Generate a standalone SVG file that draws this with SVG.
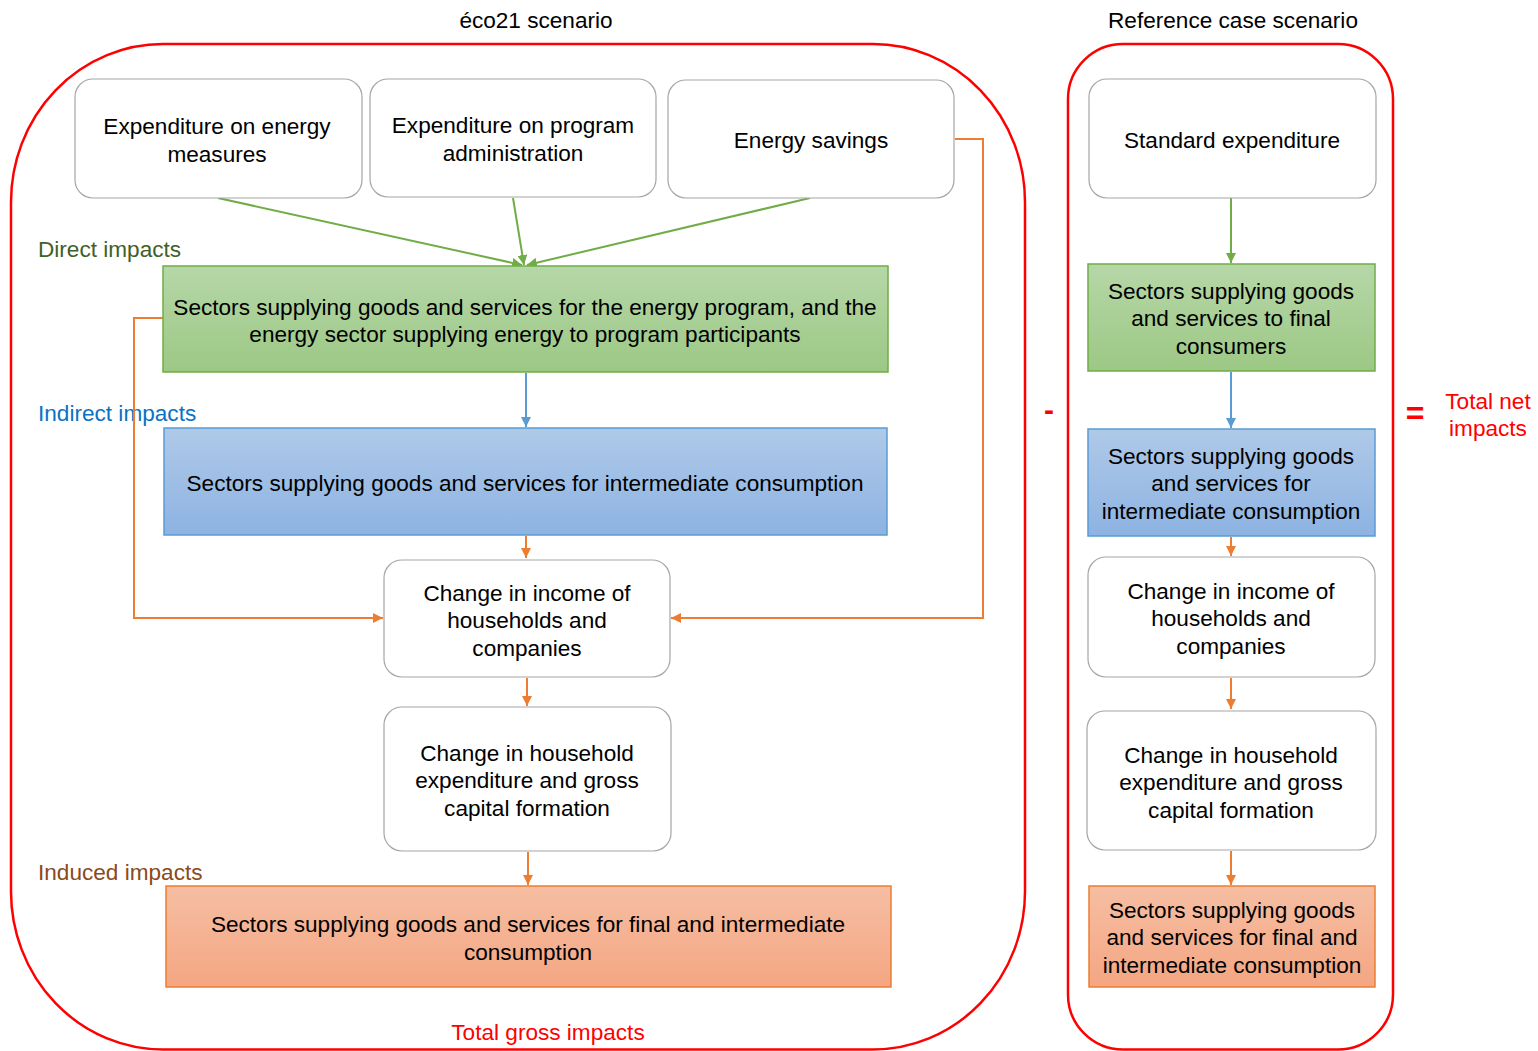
<svg xmlns="http://www.w3.org/2000/svg" width="1538" height="1051" viewBox="0 0 1538 1051">
<defs>
<linearGradient id="gGreen" x1="0" y1="0" x2="0" y2="1"><stop offset="0" stop-color="#b6d7a8"/><stop offset="1" stop-color="#9cc884"/></linearGradient>
<linearGradient id="gBlue" x1="0" y1="0" x2="0" y2="1"><stop offset="0" stop-color="#afc9e8"/><stop offset="1" stop-color="#8db3e2"/></linearGradient>
<linearGradient id="gOrange" x1="0" y1="0" x2="0" y2="1"><stop offset="0" stop-color="#f6bea3"/><stop offset="1" stop-color="#f4a682"/></linearGradient>
<marker id="aG" markerUnits="userSpaceOnUse" markerWidth="10" markerHeight="10" viewBox="0 0 10 10" refX="10" refY="5" orient="auto"><path d="M0,0 L10,5 L0,10 z" fill="#70ad47"/></marker>
<marker id="aB" markerUnits="userSpaceOnUse" markerWidth="10" markerHeight="10" viewBox="0 0 10 10" refX="10" refY="5" orient="auto"><path d="M0,0 L10,5 L0,10 z" fill="#5b9bd5"/></marker>
<marker id="aO" markerUnits="userSpaceOnUse" markerWidth="10" markerHeight="10" viewBox="0 0 10 10" refX="10" refY="5" orient="auto"><path d="M0,0 L10,5 L0,10 z" fill="#ed7d31"/></marker>
</defs>
<style>
text{font-family:"Liberation Sans",Arial,sans-serif;font-size:22.6px;fill:#000;text-anchor:middle;dominant-baseline:central}
.lbl{text-anchor:start}
.red{fill:#ff0000}
.frame{fill:none;stroke:#ff0000;stroke-width:2.5}
.wbox{fill:#fff;stroke:#a6a6a6;stroke-width:1.2}
.gbox{fill:url(#gGreen);stroke:#70ad47;stroke-width:1.5}
.bbox{fill:url(#gBlue);stroke:#5b9bd5;stroke-width:1.5}
.obox{fill:url(#gOrange);stroke:#ed7d31;stroke-width:1.5}
.cg{fill:none;stroke:#70ad47;stroke-width:2;marker-end:url(#aG)}
.cb{fill:none;stroke:#5b9bd5;stroke-width:2;marker-end:url(#aB)}
.co{fill:none;stroke:#ed7d31;stroke-width:2;marker-end:url(#aO)}
</style>
<rect width="1538" height="1051" fill="#fff"/>

<g id="frames">
<rect class="frame" x="11" y="44" width="1014" height="1005.5" rx="152" ry="158"/>
<rect class="frame" x="1068" y="44" width="325" height="1005.5" rx="55" ry="55"/>
</g>

<g id="labels">
<text x="536" y="20">éco21 scenario</text>
<text x="1233" y="20">Reference case scenario</text>
<text class="lbl" x="38" y="249" style="fill:#3f6127">Direct impacts</text>
<text class="lbl" x="38" y="413" style="fill:#0a72c4">Indirect impacts</text>
<text class="lbl" x="38" y="872" style="fill:#8a4a1a">Induced impacts</text>
<text class="red" x="548" y="1032">Total gross impacts</text>
<text class="red" x="1049" y="409" style="font-size:30px;font-weight:bold">-</text>
<text class="red" x="1415" y="413" style="font-size:32px;font-weight:bold">=</text>
<text class="red" x="1488" y="401">Total net</text>
<text class="red" x="1488" y="428">impacts</text>
</g>

<g id="connectors">
<line class="cg" x1="218" y1="198" x2="522" y2="265"/>
<line class="cg" x1="513" y1="198" x2="524" y2="265"/>
<line class="cg" x1="810" y1="198" x2="527" y2="265"/>
<line class="cb" x1="526" y1="373" x2="526" y2="427"/>
<line class="co" x1="526" y1="536" x2="526" y2="558"/>
<line class="co" x1="527" y1="678" x2="527" y2="706"/>
<line class="co" x1="528" y1="852" x2="528" y2="885"/>
<polyline class="co" points="163,318 134,318 134,618 383,618"/>
<polyline class="co" points="955,139 983,139 983,618 671,618"/>
<line class="cg" x1="1231" y1="198" x2="1231" y2="263"/>
<line class="cb" x1="1231" y1="372" x2="1231" y2="428"/>
<line class="co" x1="1231" y1="537" x2="1231" y2="556"/>
<line class="co" x1="1231" y1="678" x2="1231" y2="709"/>
<line class="co" x1="1231" y1="851" x2="1231" y2="885"/>
</g>

<g id="n-exp-energy">
<rect class="wbox" x="75" y="79" width="287" height="119" rx="18"/>
<text x="217" y="126">Expenditure on energy</text>
<text x="217" y="154">measures</text>
</g>
<g id="n-exp-admin">
<rect class="wbox" x="370" y="79" width="286" height="118" rx="18"/>
<text x="513" y="125">Expenditure on program</text>
<text x="513" y="153">administration</text>
</g>
<g id="n-savings">
<rect class="wbox" x="668" y="80" width="286" height="118" rx="18"/>
<text x="811" y="140">Energy savings</text>
</g>
<g id="n-direct">
<rect class="gbox" x="163" y="266" width="725" height="106"/>
<text x="525" y="307">Sectors supplying goods and services for the energy program, and the</text>
<text x="525" y="334">energy sector supplying energy to program participants</text>
</g>
<g id="n-indirect">
<rect class="bbox" x="164" y="428" width="723" height="107"/>
<text x="525" y="483">Sectors supplying goods and services for intermediate consumption</text>
</g>
<g id="n-income">
<rect class="wbox" x="384" y="560" width="286" height="117" rx="18"/>
<text x="527" y="593">Change in income of</text>
<text x="527" y="620">households and</text>
<text x="527" y="648">companies</text>
</g>
<g id="n-household">
<rect class="wbox" x="384" y="707" width="287" height="144" rx="18"/>
<text x="527" y="753">Change in household</text>
<text x="527" y="780">expenditure and gross</text>
<text x="527" y="808">capital formation</text>
</g>
<g id="n-induced">
<rect class="obox" x="166" y="886" width="725" height="101"/>
<text x="528" y="924">Sectors supplying goods and services for final and intermediate</text>
<text x="528" y="952">consumption</text>
</g>

<g id="r-standard">
<rect class="wbox" x="1089" y="79" width="287" height="119" rx="18"/>
<text x="1232" y="140">Standard expenditure</text>
</g>
<g id="r-final">
<rect class="gbox" x="1088" y="264" width="287" height="107"/>
<text x="1231" y="291">Sectors supplying goods</text>
<text x="1231" y="318">and services to final</text>
<text x="1231" y="346">consumers</text>
</g>
<g id="r-intermediate">
<rect class="bbox" x="1088" y="429" width="287" height="107"/>
<text x="1231" y="456">Sectors supplying goods</text>
<text x="1231" y="483">and services for</text>
<text x="1231" y="511">intermediate consumption</text>
</g>
<g id="r-income">
<rect class="wbox" x="1088" y="557" width="287" height="120" rx="18"/>
<text x="1231" y="591">Change in income of</text>
<text x="1231" y="618">households and</text>
<text x="1231" y="646">companies</text>
</g>
<g id="r-household">
<rect class="wbox" x="1087" y="711" width="289" height="139" rx="18"/>
<text x="1231" y="755">Change in household</text>
<text x="1231" y="782">expenditure and gross</text>
<text x="1231" y="810">capital formation</text>
</g>
<g id="r-induced">
<rect class="obox" x="1089" y="886" width="286" height="101"/>
<text x="1232" y="910">Sectors supplying goods</text>
<text x="1232" y="937">and services for final and</text>
<text x="1232" y="965">intermediate consumption</text>
</g>
</svg>
